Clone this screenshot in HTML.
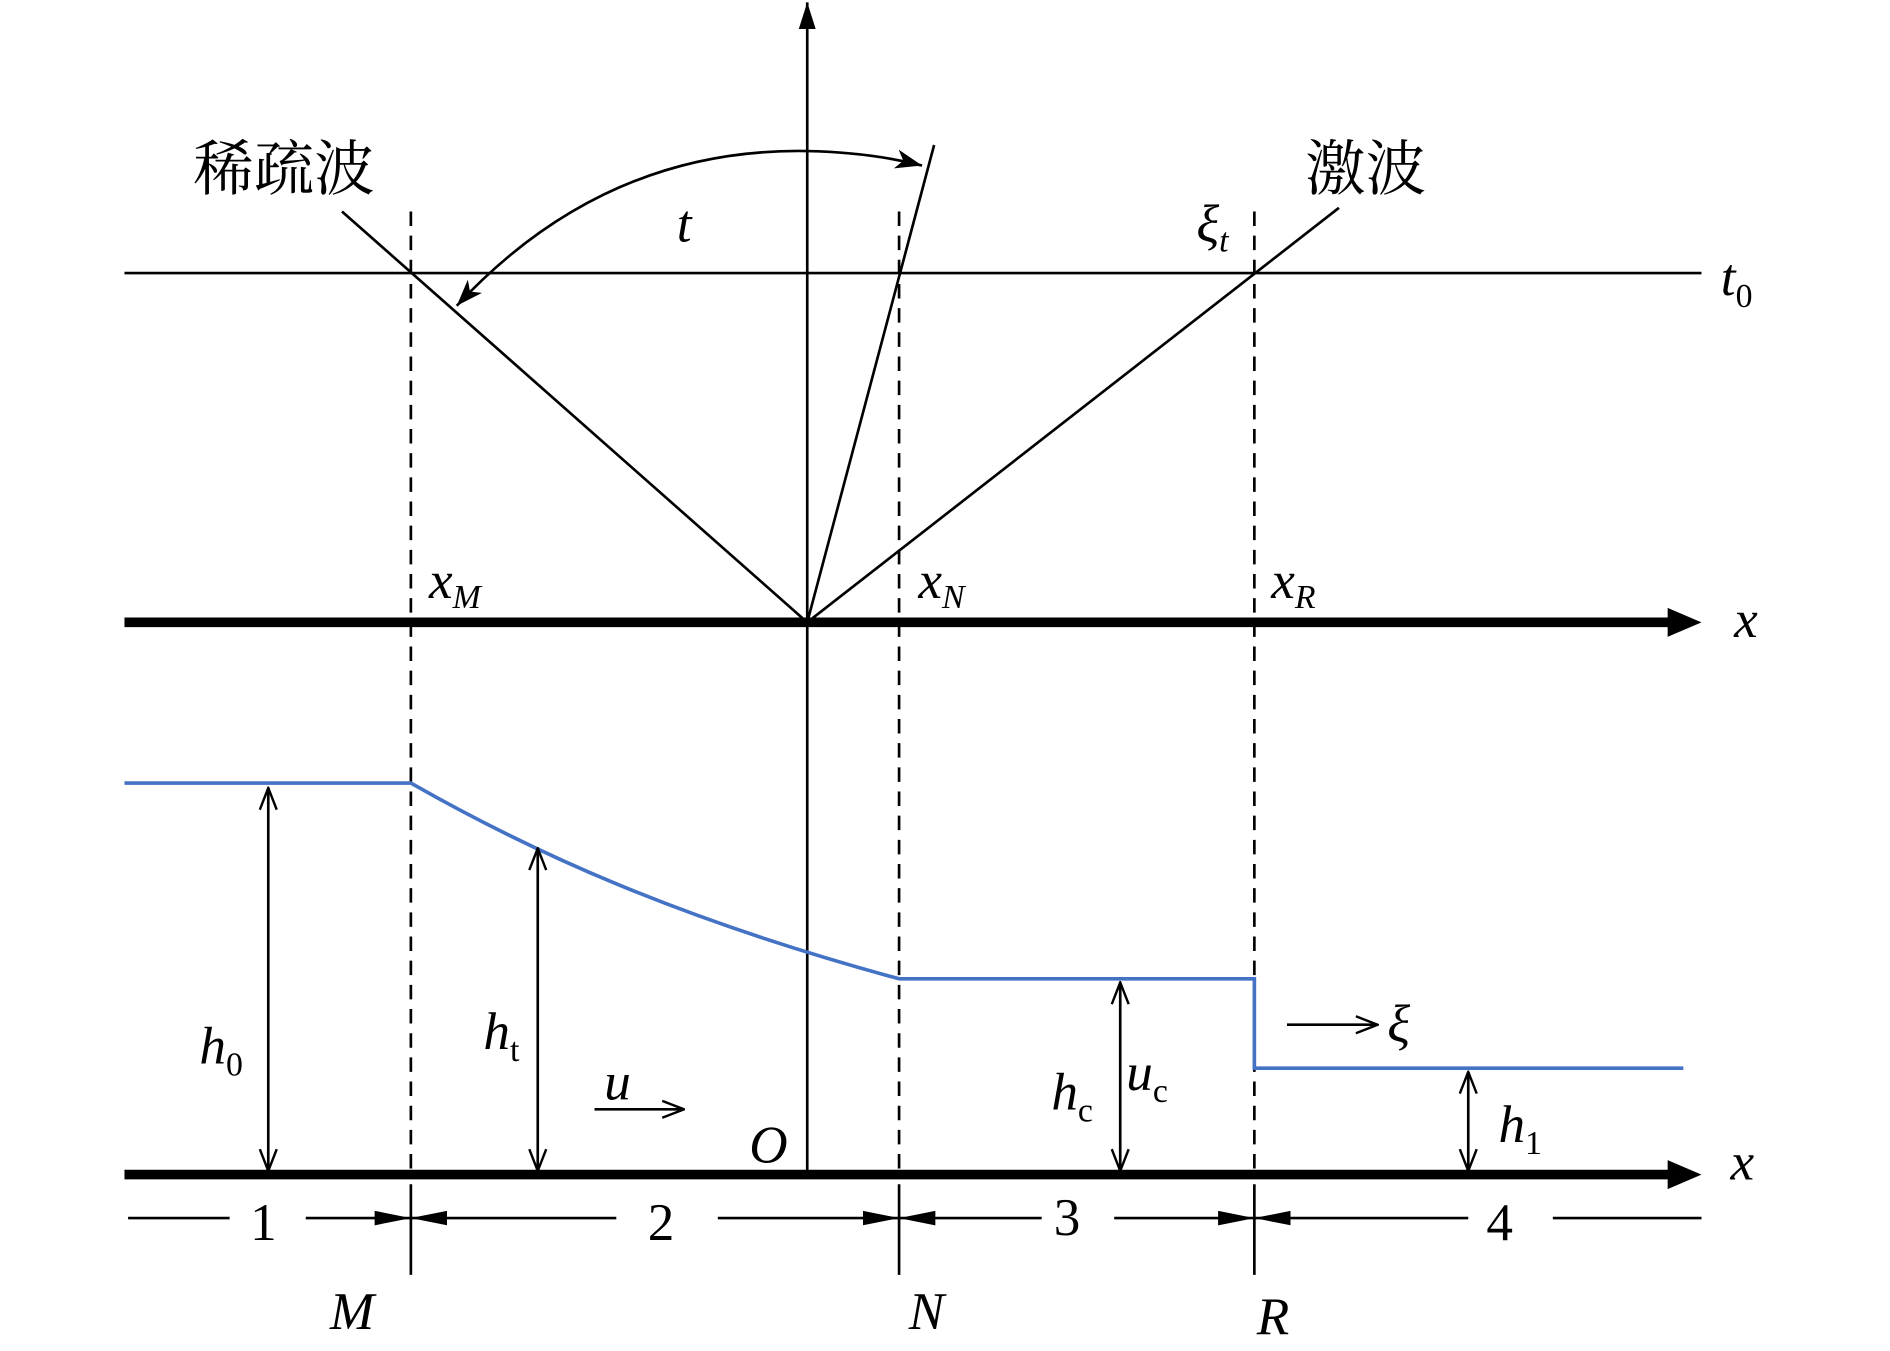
<!DOCTYPE html>
<html><head><meta charset="utf-8"><style>html,body{margin:0;padding:0;background:#fff}svg{display:block}</style></head>
<body>
<svg width="1890" height="1351" viewBox="0 0 1564 1118" preserveAspectRatio="none" xmlns="http://www.w3.org/2000/svg" font-family="'Liberation Serif','Noto Serif CJK SC',serif">
<defs>
<marker id="fb" viewBox="0 0 30 12" refX="30" refY="6" markerWidth="30" markerHeight="12" markerUnits="userSpaceOnUse" orient="auto"><path d="M0,0 L30,6 L0,12 z" fill="#000"/></marker>
<marker id="oa" viewBox="0 0 20 20" refX="19" refY="10" markerWidth="20" markerHeight="20" markerUnits="userSpaceOnUse" orient="auto-start-reverse"><path d="M1,3 L19,10 L1,17" fill="none" stroke="#000" stroke-width="2"/></marker>
<marker id="ca" viewBox="0 0 24 20" refX="22" refY="10" markerWidth="24" markerHeight="20" markerUnits="userSpaceOnUse" orient="auto-start-reverse"><path d="M0,2 L22,10 L0,18 L6,10 z" fill="#000"/></marker>
<marker id="ta" viewBox="0 0 24 20" refX="22" refY="10" markerWidth="24" markerHeight="20" markerUnits="userSpaceOnUse" orient="auto"><path d="M0,3 L22,10 L0,17 z" fill="#000"/></marker>
</defs>
<g stroke="#000" fill="none" stroke-width="2.2">
<line x1="668" y1="970" x2="668" y2="2" marker-end="url(#ta)"/>
<line x1="103" y1="226" x2="1408" y2="226"/>
<line x1="103" y1="515" x2="1385" y2="515" stroke-width="8"/>
<path d="M1380,503 L1408,515 L1380,527 z" fill="#000" stroke="none"/>
<line x1="103" y1="972" x2="1385" y2="972" stroke-width="8"/>
<path d="M1380,960 L1408,972 L1380,984 z" fill="#000" stroke="none"/>
<g stroke-dasharray="12,8">
<line x1="340" y1="175" x2="340" y2="972"/>
<line x1="744" y1="175" x2="744" y2="972"/>
<line x1="1038" y1="175" x2="1038" y2="972"/>
</g>
<line x1="340" y1="980" x2="340" y2="1055"/>
<line x1="744" y1="980" x2="744" y2="1055"/>
<line x1="1038" y1="980" x2="1038" y2="1055"/>
<line x1="283" y1="175" x2="668" y2="515"/>
<line x1="668" y1="515" x2="1108" y2="172"/>
<line x1="668" y1="515" x2="773" y2="120"/>
<path d="M763,137 Q720,126 668,125 Q500,122 378,253" marker-start="url(#ca)" marker-end="url(#ca)"/>
<path d="M103,648 L340,648 C440,705 560,760 744,810 L1038,810 L1038,884 L1393,884" stroke="#4472C4" stroke-width="3"/>
<line x1="222" y1="652" x2="222" y2="969" marker-start="url(#oa)" marker-end="url(#oa)"/>
<line x1="445" y1="702" x2="445" y2="969" marker-start="url(#oa)" marker-end="url(#oa)"/>
<line x1="927" y1="813" x2="927" y2="969" marker-start="url(#oa)" marker-end="url(#oa)"/>
<line x1="1215" y1="887" x2="1215" y2="969" marker-start="url(#oa)" marker-end="url(#oa)"/>
<line x1="492" y1="918" x2="566" y2="918" marker-end="url(#oa)"/>
<line x1="1065" y1="848" x2="1140" y2="848" marker-end="url(#oa)"/>
<line x1="106" y1="1008" x2="190" y2="1008"/>
<line x1="253" y1="1008" x2="340" y2="1008" marker-end="url(#fb)"/>
<line x1="510" y1="1008" x2="340" y2="1008" marker-end="url(#fb)"/>
<line x1="594" y1="1008" x2="744" y2="1008" marker-end="url(#fb)"/>
<line x1="862" y1="1008" x2="744" y2="1008" marker-end="url(#fb)"/>
<line x1="922" y1="1008" x2="1038" y2="1008" marker-end="url(#fb)"/>
<line x1="1215" y1="1008" x2="1038" y2="1008" marker-end="url(#fb)"/>
<line x1="1285" y1="1008" x2="1408" y2="1008"/>
</g>
<g fill="#000" font-size="44">
<text x="160" y="157" font-size="50" font-family="'Noto Serif CJK SC','Noto Sans CJK SC',serif">稀疏波</text>
<text x="1080" y="157" font-size="50" font-family="'Noto Serif CJK SC','Noto Sans CJK SC',serif">激波</text>
<text x="560" y="200" font-style="italic">t</text>
<text x="990" y="200" font-style="italic">ξ<tspan font-size="28" dy="8">t</tspan></text>
<text x="1424" y="244" font-style="italic">t<tspan font-size="28" font-style="normal" dy="10">0</tspan></text>
<text x="355" y="495" font-style="italic">x<tspan font-size="28" dy="8">M</tspan></text>
<text x="760" y="495" font-style="italic">x<tspan font-size="28" dy="8">N</tspan></text>
<text x="1052" y="495" font-style="italic">x<tspan font-size="28" dy="8">R</tspan></text>
<text x="1435" y="527" font-style="italic">x</text>
<text x="1432" y="976" font-style="italic">x</text>
<text x="165" y="880" font-style="italic">h<tspan font-size="28" font-style="normal" dy="10">0</tspan></text>
<text x="400" y="868" font-style="italic">h<tspan font-size="28" font-style="normal" dy="10">t</tspan></text>
<text x="870" y="918" font-style="italic">h<tspan font-size="28" font-style="normal" dy="10">c</tspan></text>
<text x="932" y="902" font-style="italic">u<tspan font-size="28" font-style="normal" dy="10">c</tspan></text>
<text x="1240" y="945" font-style="italic">h<tspan font-size="28" font-style="normal" dy="10">1</tspan></text>
<text x="500" y="910" font-style="italic">u</text>
<text x="1148" y="862" font-style="italic">ξ</text>
<text x="620" y="962" font-style="italic">O</text>
<text x="207" y="1026">1</text>
<text x="536" y="1026">2</text>
<text x="872" y="1022">3</text>
<text x="1230" y="1026">4</text>
<text x="273" y="1100" font-style="italic">M</text>
<text x="752" y="1100" font-style="italic">N</text>
<text x="1040" y="1104" font-style="italic">R</text>
</g>
</svg>
</body></html>
